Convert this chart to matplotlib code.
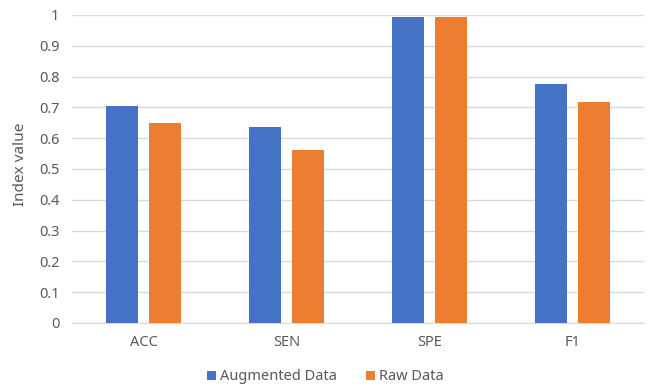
import matplotlib.pyplot as plt
import numpy as np

# dados
categorias = ["ACC", "SEN", "SPE", "F1"]
augmented = [0.706, 0.636, 0.994, 0.776]
raw = [0.649, 0.562, 0.994, 0.719]
yticks = [0, 0.1, 0.2, 0.3, 0.4, 0.5, 0.6, 0.7, 0.8, 0.9, 1]
ytick_labels = ["0", "0.1", "0.2", "0.3", "0.4", "0.5", "0.6", "0.7", "0.8", "0.9", "1"]

plt.rcParams['font.family'] = ['Noto Sans', 'DejaVu Sans']
texto = '#595959'

fig = plt.figure(figsize=(6.51, 3.87), dpi=100)
ax = fig.add_axes([72 / 651, 1 - 323 / 387, 572 / 651, 308 / 387])

x = np.arange(len(categorias))
w = 0.224
gap = 0.07
ax.bar(x - (w + gap) / 2, augmented, w, color='#4472C4', label='Augmented Data', zorder=3)
ax.bar(x + (w + gap) / 2, raw, w, color='#ED7D31', label='Raw Data', zorder=3)

ax.set_xlim(-0.5, len(categorias) - 0.5)
ax.set_ylim(0, 1)
ax.set_yticks(yticks)
ax.set_yticklabels(ytick_labels)
ax.set_xticks(x)
ax.set_xticklabels(categorias)
ax.tick_params(axis='both', length=0, colors=texto, labelsize=10.5)
ax.tick_params(axis='y', pad=9)
ax.tick_params(axis='x', pad=9)
ax.grid(axis='y', color='#D9D9D9', lw=1, zorder=0)
for s in ['top', 'right', 'left']:
    ax.spines[s].set_visible(False)
ax.spines['bottom'].set_color('#D9D9D9')
ax.set_ylabel('Index value', color=texto, fontsize=11)
ax.yaxis.set_label_coords(-0.077, 0.516)

fig.legend(loc='center', bbox_to_anchor=(0.5, 1 - 377 / 387), ncol=2, frameon=False,
           fontsize=10.5, labelcolor=texto, handlelength=0.6, handleheight=0.6,
           handletextpad=0.3, columnspacing=2.0)

plt.savefig('out.png', dpi=100)
